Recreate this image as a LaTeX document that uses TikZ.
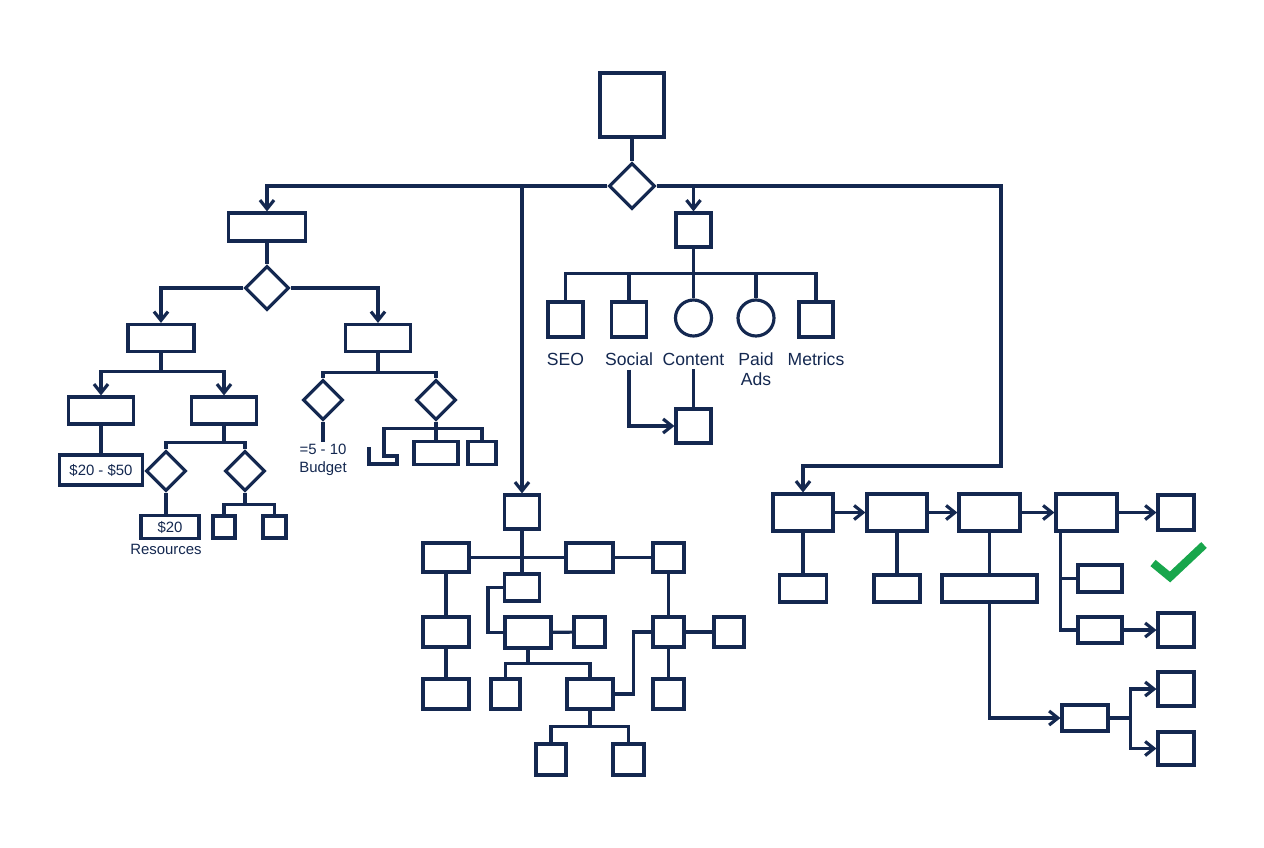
\documentclass[tikz,border=0pt]{standalone}
\usepackage{fontspec}
\setmainfont{Liberation Sans}
\usepackage{xcolor}
\usepackage{tikz}
\usetikzlibrary{arrows.meta,shapes.geometric}
\definecolor{navy}{RGB}{20,40,80}
\definecolor{okgreen}{RGB}{24,166,76}
\tikzset{
    mybox/.style 2 args={rectangle,draw=navy,line width=1.8pt,minimum width=#1*0.02cm,minimum height=#2*0.02cm,inner sep=0pt,text=navy,font=\fontsize{8.5}{10}\selectfont},
    mydiamond/.style={diamond,draw=navy,line width=1.8pt,minimum width=#1*0.02cm,minimum height=#1*0.02cm,inner sep=0pt},
    mycircle/.style={circle,draw=navy,line width=1.8pt,minimum size=#1*0.02cm,inner sep=0pt},
    myline/.style={draw=navy,line width=1.8pt},
    myarrow/.style={myline,-{Straight Barb[length=5pt,width=8pt]}},
    mylabel/.style={text=navy,font=\fontsize{10}{11.5}\selectfont,align=center,inner sep=2pt},
    mysmall/.style={text=navy,font=\fontsize{8.5}{10}\selectfont,align=center,inner sep=1pt}
}
\begin{document}
\begin{tikzpicture}[x=0.02cm,y=-0.02cm]
    \fill[white] (0,0) rectangle (1264,848);
    \useasboundingbox (0,0) rectangle (1264,848);
    % top
    \draw (632,105) node[mybox={64}{64}] (start) {};
    \draw (632,186) node[mydiamond=46] (choice) {};
    \draw[myline] (start) -- (choice);
    \coordinate (turn) at (1001,466);
    % left branch
    \draw (267,227) node[mybox={77}{28}] (plan) {};
    \draw[myarrow] (choice.west) -| (plan.north);
    \draw (267,288) node[mydiamond=44] (split) {};
    \draw[myline] (plan) -- (split);
    \draw (161,338) node[mybox={66}{27}] (lowA) {};
    \draw (378,338) node[mybox={65}{27}] (highA) {};
    \draw[myarrow] (split.west) -| (lowA.north);
    \draw[myarrow] (split.east) -| (highA.north);
    \draw (101,410.5) node[mybox={65}{27}] (lowB) {};
    \draw (224,410.5) node[mybox={65}{27}] (lowC) {};
    \draw[myarrow] (lowA.south) -- ++(0,18) -| (lowB.north);
    \draw[myarrow] (lowA.south) -- ++(0,18) -| (lowC.north);
    \draw (101,470) node[mybox={83}{30}] (range) {\$20 - \$50};
    \draw[myline] (lowB) -- (range);
    \draw (166,471) node[mydiamond=40] (chkA) {};
    \draw (245,471) node[mydiamond=40] (chkB) {};
    \draw[myline] (lowC.south) -- ++(0,17) -| (chkA.north);
    \draw[myline] (lowC.south) -- ++(0,17) -| (chkB.north);
    \draw (170,527) node[mybox={58}{23}] (cost) {\$20};
    \draw[myline] (chkA.south) -- (chkA.south |- cost.north);
    \draw (166,549.5) node[mysmall] (res) {Resources};
    \draw (224,527) node[mybox={22}{22}] (tinyA) {};
    \draw (274.5,527) node[mybox={23}{22}] (tinyB) {};
    \draw[myline] (chkB.south) -- ++(0,12) -| (tinyA.north);
    \draw[myline] (chkB.south) -- ++(0,12) -| (tinyB.north);
    % budget
    \draw (323,400) node[mydiamond=40] (budA) {};
    \draw (436,400) node[mydiamond=40] (budB) {};
    \draw[myline] (highA.south) -- ++(0,19) -| (budA.north);
    \draw[myline] (highA.south) -- ++(0,19) -| (budB.north);
    \draw (323,460) node[mysmall] (budget) {=5 - 10\\Budget};
    \draw[myline] (budA) -- (budget);
    \draw (436,453) node[mybox={44}{23}] (optA) {};
    \draw (482,453) node[mybox={28}{23}] (optB) {};
    \draw[myline] (budB) -- (optA);
    \draw[myline] (budB.south) -- ++(0,7) -| (optB.north);
    \draw[myline] (budB.south) -- ++(0,7) -| (384,456) -| (397,464) -| (369,447);
    % network
    \draw (522,512) node[mybox={35}{34}] (hub) {};
    \draw[myarrow] (choice.west) -| (hub.north);
    \draw (446,557.5) node[mybox={46}{29}] (netA) {};
    \draw (589.5,557.5) node[mybox={47}{29}] (netB) {};
    \draw (668.5,557.5) node[mybox={31}{29}] (netC) {};
    \draw (522,587.5) node[mybox={35}{27}] (netD) {};
    \draw[myline] (hub) -- (netD);
    \draw[myline] (netA) -- (netB);
    \draw[myline] (netB) -- (netC);
    \draw (446,632) node[mybox={46}{30}] (netE) {};
    \draw (446,694) node[mybox={46}{30}] (netF) {};
    \draw[myline] (netA) -- (netE);
    \draw[myline] (netE) -- (netF);
    \draw (528,632.5) node[mybox={46}{31}] (netG) {};
    \draw[myline] (netD.west) -- ++(-15,0) |- (netG.west);
    \draw (589.5,632) node[mybox={31}{30}] (netH) {};
    \draw[myline] (netG) -- (netH);
    \draw (505.5,694) node[mybox={29}{30}] (netI) {};
    \draw (590,694) node[mybox={46}{30}] (netJ) {};
    \draw[myline] (netG.south) -- ++(0,14) -| (netI.north);
    \draw[myline] (netG.south) -- ++(0,14) -| (netJ.north);
    \draw (668.5,632) node[mybox={31}{30}] (netK) {};
    \draw[myline] (netJ.east) -- ++(19,0) |- (netK.west);
    \draw[myline] (netC) -- (netK);
    \draw (729,632) node[mybox={30}{30}] (netL) {};
    \draw[myline] (netK) -- (netL);
    \draw (668.5,694) node[mybox={31}{30}] (netM) {};
    \draw[myline] (netK) -- (netM);
    \draw (551,759.5) node[mybox={30}{31}] (netN) {};
    \draw (628.5,759.5) node[mybox={31}{31}] (netO) {};
    \draw[myline] (netJ.south) -- ++(0,16) -| (netN.north);
    \draw[myline] (netJ.south) -- ++(0,16) -| (netO.north);
    % marketing
    \draw (693.5,230) node[mybox={35}{34}] (mkt) {};
    \draw[myarrow] (choice.east) -| (mkt.north);
    \draw (565.5,319.5) node[mybox={35}{35}] (seo) {};
    \draw (629,319.5) node[mybox={35}{35}] (social) {};
    \draw (693.5,318) node[mycircle=36] (content) {};
    \draw (756,318) node[mycircle=36] (paid) {};
    \draw (816,319.5) node[mybox={34}{35}] (metrics) {};
    \draw[myline] (mkt.south) -- ++(0,25) -| (seo.north);
    \draw[myline] (mkt.south) -- ++(0,25) -| (social.north);
    \draw[myline] (mkt.south) -- ++(0,25) -| (content.north);
    \draw[myline] (mkt.south) -- ++(0,25) -| (paid.north);
    \draw[myline] (mkt.south) -- ++(0,25) -| (metrics.north);
    \draw (565.5,349) node[mylabel,anchor=north] (lseo) {SEO};
    \draw (629,349) node[mylabel,anchor=north] (lsocial) {Social};
    \draw (693.5,349) node[mylabel,anchor=north] (lcontent) {Content};
    \draw (756,349) node[mylabel,anchor=north] (lpaid) {Paid\\Ads};
    \draw (816,349) node[mylabel,anchor=north] (lmetrics) {Metrics};
    \draw (693.5,426) node[mybox={35}{34}] (mix) {};
    \draw[myarrow] (lsocial.south) |- (mix.west);
    \draw[myline] (lcontent.south) -- (mix.north);
    % flow
    \draw (803,512.5) node[mybox={60}{37}] (stepA) {};
    \draw[myarrow] (choice.east) -| (turn) -| (stepA.north);
    \draw (897,512.5) node[mybox={60}{37}] (stepB) {};
    \draw (989.5,512.5) node[mybox={61}{37}] (stepC) {};
    \draw (1086.5,512.5) node[mybox={61}{37}] (stepD) {};
    \draw (1176,512.5) node[mybox={36}{35}] (goal) {};
    \draw[myarrow] (stepA) -- (stepB);
    \draw[myarrow] (stepB) -- (stepC);
    \draw[myarrow] (stepC) -- (stepD);
    \draw[myarrow] (stepD) -- (goal);
    \draw (803,588.5) node[mybox={47}{27}] (noteA) {};
    \draw (897,588.5) node[mybox={46}{27}] (noteB) {};
    \draw (989.5,588.5) node[mybox={95}{27}] (noteC) {};
    \draw[myline] (stepA) -- (noteA);
    \draw[myline] (stepB) -- (noteB);
    \draw[myline] (stepC) -- (noteC);
    \draw (1085,718) node[mybox={46}{26}] (sub) {};
    \draw[myarrow] (noteC.south) |- (sub.west);
    \draw (1176,689) node[mybox={36}{34}] (subA) {};
    \draw (1176,748.5) node[mybox={36}{33}] (subB) {};
    \draw[myarrow] (sub.east) -- ++(21,0) |- (subA.west);
    \draw[myarrow] (sub.east) -- ++(21,0) |- (subB.west);
    \draw (1100,578.5) node[mybox={44}{27}] (optC) {};
    \draw (1100,630) node[mybox={44}{26}] (optD) {};
    \draw (1176,630) node[mybox={36}{34}] (alt) {};
    \draw[myline] ([xshift=0.12cm]stepD.south west) |- (optC.west);
    \draw[myline] ([xshift=0.12cm]stepD.south west) |- (optD.west);
    \draw[myarrow] (optD) -- (alt);
    \draw[okgreen,line width=4.6pt] (1153,563) -- (1170,577) -- (1204,545);
\end{tikzpicture}
\end{document}
